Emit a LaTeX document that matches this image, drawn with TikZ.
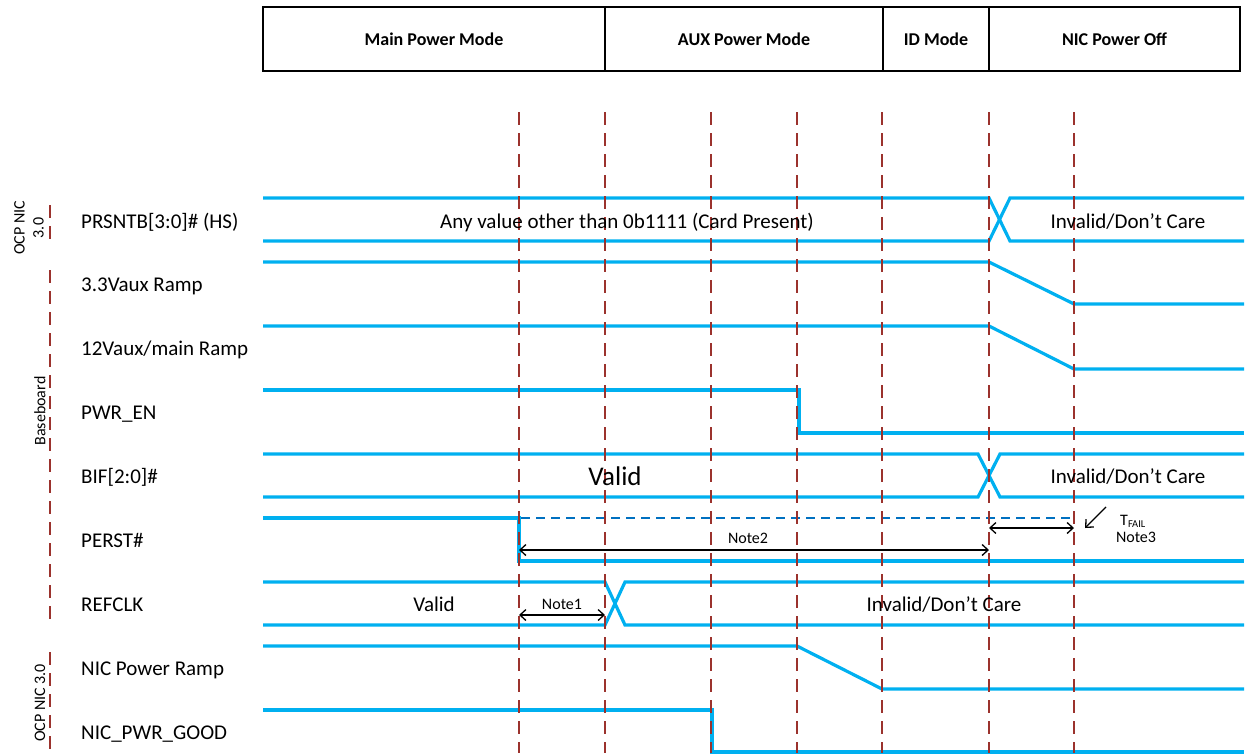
\documentclass[tikz,border=0pt]{standalone}
\usepackage{fontspec}
\setmainfont{Carlito}
\usetikzlibrary{arrows.meta}
\definecolor{sig}{RGB}{0,176,240}
\definecolor{gridred}{RGB}{155,50,45}
\definecolor{dblue}{RGB}{0,112,192}
\tikzset{
  sigline/.style={draw=sig, line width=3.2pt, line join=miter},
  gridline/.style={draw=gridred, line width=1.4pt, dash pattern=on 13pt off 8pt},
  perdash/.style={draw=dblue, line width=2pt, dash pattern=on 9pt off 6pt},
  lab/.style={font=\fontsize{21}{25}\selectfont, anchor=base west, inner sep=0pt},
  bustext/.style={font=\fontsize{21}{25}\selectfont, anchor=base, inner sep=0pt},
  notetext/.style={font=\fontsize{16}{19}\selectfont, anchor=base, inner sep=0pt},
  sidelab/.style={font=\fontsize{16}{19}\selectfont, rotate=90, inner sep=0pt, align=center},
  cell/.style={draw=black, line width=1.3pt, minimum height=64pt, inner sep=0pt,
    font=\fontsize{18}{21}\selectfont\bfseries},
  dim/.style={draw=black, line width=1.3pt, {Straight Barb[length=6pt,width=11pt]}-{Straight Barb[length=6pt,width=11pt]}},
  ptr/.style={draw=black, line width=1.3pt, -{Straight Barb[length=6pt,width=11pt]}}
}
\begin{document}
\begin{tikzpicture}[x=1pt,y=-1pt]
\useasboundingbox (0,0) rectangle (1246,753);
% header cells
\node[cell, minimum width=342pt] (hmain) at (434,39) {Main Power Mode};
\node[cell, minimum width=278pt] (haux) at (744,39) {AUX Power Mode};
\node[cell, minimum width=106pt] (hid) at (936,39) {ID Mode};
\node[cell, minimum width=251pt] (hoff) at (1114.5,39) {NIC Power Off};

% side group lines
\draw[gridline] (50,205) -- (50,241);
\draw[gridline] (50,270) -- (50,626);
\draw[gridline] (50,652) -- (50,753);
\node[sidelab] (g1) at (29,228) {OCP NIC\\3.0};
\node[sidelab] (g2) at (40,411) {Baseboard};
\node[sidelab] (g3) at (40,703) {OCP NIC 3.0};

% signal labels
\node[lab] (l1) at (81,228) {PRSNTB[3:0]\# (HS)};
\node[lab] (l2) at (81,291) {3.3Vaux Ramp};
\node[lab] (l3) at (81,355) {12Vaux/main Ramp};
\node[lab] (l4) at (81,419) {PWR\_EN};
\node[lab] (l5) at (81,483) {BIF[2:0]\#};
\node[lab] (l6) at (81,547) {PERST\#};
\node[lab] (l7) at (81,611) {REFCLK};
\node[lab] (l8) at (81,675) {NIC Power Ramp};
\node[lab] (l9) at (81,739) {NIC\_PWR\_GOOD};

% PRSNTB bus
\draw[sigline] (263,198) -- (989,198) -- (1010,241) -- (1244,241);
\draw[sigline] (263,241) -- (989,241) -- (1010,198) -- (1244,198);
% 3.3Vaux
\draw[sigline] (263,262) -- (989,262) -- (1074,304) -- (1244,304);
% 12Vaux
\draw[sigline] (263,326) -- (989,326) -- (1074,369) -- (1244,369);
% PWR_EN
\draw[sigline] (263,390) -- (799,390) -- (799,433) -- (1244,433);
% BIF bus
\draw[sigline] (263,454) -- (978,454) -- (1000,497) -- (1244,497);
\draw[sigline] (263,497) -- (978,497) -- (1000,454) -- (1244,454);
% PERST#
\draw[sigline] (263,518) -- (519,518) -- (519,561) -- (1244,561);
\draw[perdash] (521,518) -- (1074,518);
% REFCLK bus
\draw[sigline] (263,582) -- (605,582) -- (625,625) -- (1244,625);
\draw[sigline] (263,625) -- (605,625) -- (625,582) -- (1244,582);
% NIC Power Ramp
\draw[sigline] (263,646) -- (797,646) -- (882,689) -- (1244,689);
% NIC_PWR_GOOD
\draw[sigline] (263,710) -- (712,710) -- (712,752) -- (1244,752);

% vertical timing lines
\foreach \x in {519,605,711,797,882,989,1074}
  \draw[gridline] (\x,112) -- (\x,753);

% bus texts
\node[bustext] (t1) at (627,228) {Any value other than 0b1111 (Card Present)};
\node[bustext] (t2) at (1128,228) {Invalid/Don’t Care};
\node[bustext, font=\fontsize{27}{31}\selectfont] (t3) at (615,485) {Valid};
\node[bustext] (t4) at (1128,483) {Invalid/Don’t Care};
\node[bustext] (t5) at (434,611) {Valid};
\node[bustext] (t6) at (944,611) {Invalid/Don’t Care};

% notes and arrows
\coordinate (n1a) at (519,615);
\coordinate (n1b) at (605,615);
\draw[dim] (n1a) -- (n1b);
\node[notetext] (n1) at (562,609) {Note1};
\coordinate (n2a) at (519,550);
\coordinate (n2b) at (989,550);
\draw[dim] (n2a) -- (n2b);
\node[notetext] (n2) at (748,543) {Note2};
\coordinate (n3a) at (989,528);
\coordinate (n3b) at (1074,528);
\draw[dim] (n3a) -- (n3b);
\coordinate (p0) at (1106,507);
\coordinate (p1) at (1085,528);
\draw[ptr] (p0) -- (p1);
\node[notetext, anchor=base west] (tf) at (1120,525) {T\raisebox{-2pt}{\fontsize{10.5}{12}\selectfont FAIL}};
\node[notetext] (n3) at (1136,542) {Note3};
\end{tikzpicture}
\end{document}
